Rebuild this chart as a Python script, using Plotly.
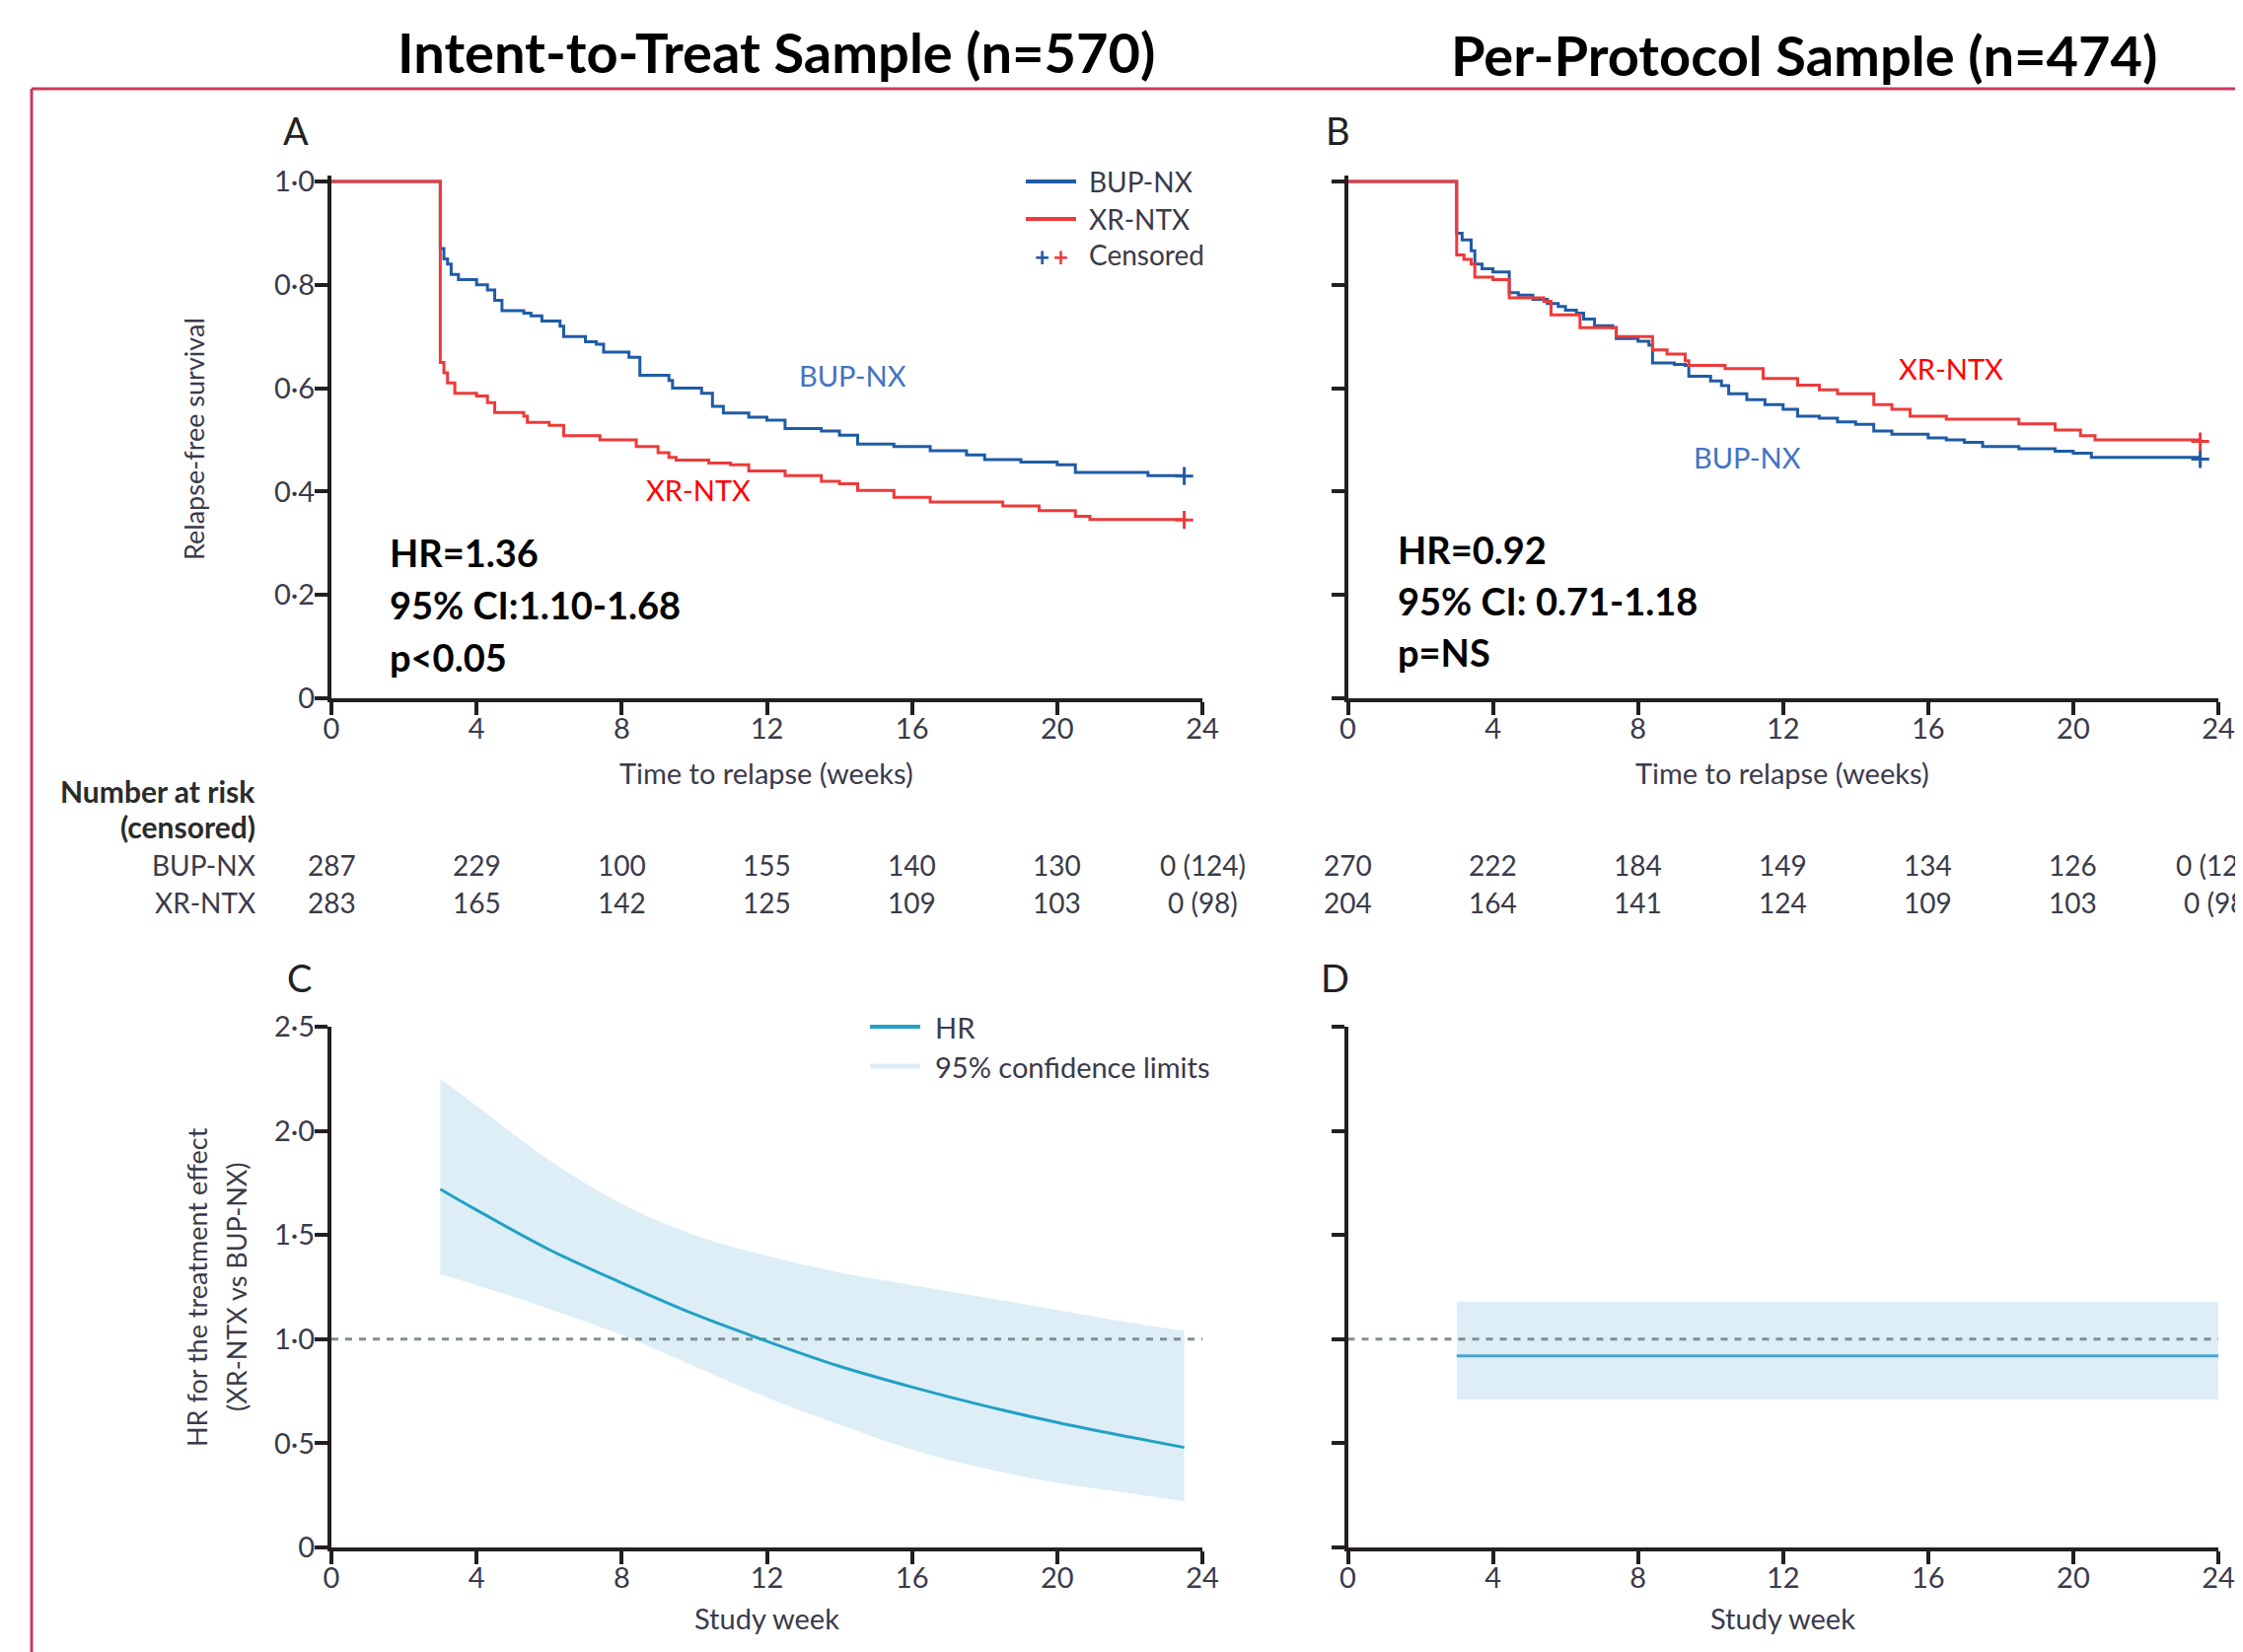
import plotly.graph_objects as go

W, H = 2274, 1675

# ---------------- data ----------------
week_ticks = [0, 4, 8, 12, 16, 20, 24]
km_ytick_vals = [0, 0.2, 0.4, 0.6, 0.8, 1.0]
km_ytick_text = ["0", "0·2", "0·4", "0·6", "0·8", "1·0"]
hr_ytick_vals = [0, 0.5, 1.0, 1.5, 2.0, 2.5]
hr_ytick_text = ["0", "0·5", "1·0", "1·5", "2·0", "2·5"]

# Panel A (intent-to-treat) Kaplan-Meier steps
itt_bup_t = [0, 3.0, 3.1, 3.2, 3.3, 3.5, 4.0, 4.3, 4.5, 4.7, 5.3, 5.5, 5.8, 6.3, 6.4, 7.0, 7.3, 7.5, 8.2, 8.5,
             9.3, 9.4, 10.2, 10.5, 10.8, 11.5, 12.0, 12.5, 13.5, 14.0, 14.5, 15.5, 16.5, 17.5, 18.0, 19.0, 20.0,
             20.5, 22.5, 23.5]
itt_bup_s = [1.0, 0.87, 0.85, 0.84, 0.82, 0.81, 0.80, 0.79, 0.77, 0.75, 0.745, 0.74, 0.73, 0.72, 0.70, 0.69, 0.685,
             0.67, 0.66, 0.625, 0.615, 0.60, 0.59, 0.565, 0.552, 0.544, 0.538, 0.522, 0.517, 0.509, 0.492, 0.487,
             0.479, 0.471, 0.462, 0.457, 0.452, 0.437, 0.431, 0.43]
itt_xr_t = [0, 3.0, 3.1, 3.2, 3.4, 4.0, 4.3, 4.5, 5.3, 5.4, 6.0, 6.4, 7.4, 8.4, 9.0, 9.3, 9.5, 10.4, 11.0, 11.5,
            12.5, 13.5, 14.0, 14.5, 15.5, 16.5, 18.5, 19.5, 20.5, 20.9, 23.5]
itt_xr_s = [1.0, 0.65, 0.63, 0.61, 0.59, 0.585, 0.572, 0.553, 0.546, 0.534, 0.528, 0.508, 0.50, 0.487, 0.475, 0.466,
            0.461, 0.455, 0.452, 0.44, 0.431, 0.42, 0.415, 0.402, 0.389, 0.38, 0.372, 0.363, 0.352, 0.346, 0.345]

# Panel B (per-protocol) Kaplan-Meier steps
pp_bup_t = [0, 3.0, 3.15, 3.4, 3.5, 3.7, 4.0, 4.45, 4.7, 5.1, 5.5, 5.8, 6.0, 6.3, 6.5, 6.8, 7.3, 7.4, 8.0, 8.3,
            8.4, 9.0, 9.3, 9.4, 10.0, 10.3, 10.5, 11.0, 11.5, 12.0, 12.4, 13.0, 13.5, 14.0, 14.5, 15.0, 16.0, 16.5,
            17.0, 17.5, 18.5, 19.5, 20.0, 20.5, 23.5]
pp_bup_s = [1.0, 0.90, 0.887, 0.866, 0.84, 0.831, 0.825, 0.785, 0.78, 0.772, 0.764, 0.758, 0.751, 0.745, 0.734,
            0.721, 0.717, 0.696, 0.691, 0.683, 0.649, 0.646, 0.644, 0.623, 0.614, 0.605, 0.589, 0.578, 0.568, 0.559,
            0.546, 0.542, 0.535, 0.53, 0.517, 0.511, 0.504, 0.50, 0.495, 0.487, 0.483, 0.478, 0.474, 0.466, 0.463]
pp_xr_t = [0, 3.0, 3.2, 3.4, 3.5, 4.0, 4.45, 5.4, 5.6, 6.4, 7.4, 8.4, 8.8, 9.3, 9.4, 10.4, 11.45, 12.4, 13.0,
           13.5, 14.5, 15.0, 15.5, 16.5, 18.5, 19.5, 20.2, 20.6, 23.5]
pp_xr_s = [1.0, 0.858, 0.849, 0.84, 0.815, 0.81, 0.775, 0.768, 0.742, 0.717, 0.70, 0.674, 0.666, 0.653, 0.644,
           0.638, 0.619, 0.606, 0.597, 0.589, 0.568, 0.559, 0.546, 0.54, 0.531, 0.519, 0.508, 0.50, 0.497]

# Panel C: time-varying hazard ratio (ITT)
c_weeks = [3, 4, 6, 8, 10, 12, 14, 16, 18, 20, 22, 23.5]
c_hr = [1.72, 1.62, 1.43, 1.27, 1.12, 0.99, 0.87, 0.77, 0.68, 0.60, 0.53, 0.48]
c_upper = [2.25, 2.12, 1.86, 1.65, 1.50, 1.40, 1.32, 1.26, 1.20, 1.14, 1.08, 1.04]
c_lower = [1.31, 1.26, 1.145, 1.02, 0.87, 0.72, 0.59, 0.47, 0.38, 0.31, 0.26, 0.22]

# Panel D: constant hazard ratio (per-protocol)
d_weeks = [3, 24]
d_hr = [0.92, 0.92]
d_upper = [1.18, 1.18]
d_lower = [0.71, 0.71]

ref_weeks = [0, 24]
ref_hr = [1.0, 1.0]

# Number at risk (censored)
risk_weeks = [0, 4, 8, 12, 16, 20, 24]
itt_risk_bup = ["287", "229", "100", "155", "140", "130", "0 (124)"]
itt_risk_xr = ["283", "165", "142", "125", "109", "103", "0 (98)"]
pp_risk_bup = ["270", "222", "184", "149", "134", "126", "0 (126)"]
pp_risk_xr = ["204", "164", "141", "124", "109", "103", "0 (98)"]

# ---------------- styling ----------------
BLUE = "#1f5ba6"
RED = "#ee3a3a"
LBL_BLUE = "#4472c4"
LBL_RED = "#ff0000"
HR_COL = "#22a0c6"
BAND = "#ddeef7"
AX = "#231f20"
TXT = "#3a3a4a"
FONT = "Lato, 'Open Sans', sans-serif"

OFF = 8.0  # page offset of the figure


def px(x):
    return (x - OFF) / W


def py(y):
    return 1 - (y - OFF) / H


fig = go.Figure()


def km(t, s, col, xa, ya):
    fig.add_trace(go.Scatter(x=t, y=s, mode="lines", line=dict(color=col, width=3, shape="hv"),
                             xaxis=xa, yaxis=ya, hoverinfo="skip"))
    fig.add_trace(go.Scatter(x=[t[-1]], y=[s[-1]], mode="markers",
                             marker=dict(symbol="cross-thin", size=13, line=dict(color=col, width=3)),
                             xaxis=xa, yaxis=ya, hoverinfo="skip", cliponaxis=False))


km(itt_bup_t, itt_bup_s, BLUE, "x", "y")
km(itt_xr_t, itt_xr_s, RED, "x", "y")
km(pp_bup_t, pp_bup_s, BLUE, "x2", "y2")
km(pp_xr_t, pp_xr_s, RED, "x2", "y2")

# Panel C
fig.add_trace(go.Scatter(x=c_weeks, y=c_lower, mode="lines", line=dict(width=0, shape="spline", color=BAND),
                         xaxis="x3", yaxis="y3", hoverinfo="skip"))
fig.add_trace(go.Scatter(x=c_weeks, y=c_upper, mode="lines", line=dict(width=0, shape="spline", color=BAND),
                         fill="tonexty", fillcolor=BAND, xaxis="x3", yaxis="y3", hoverinfo="skip"))
fig.add_trace(go.Scatter(x=ref_weeks, y=ref_hr, mode="lines",
                         line=dict(color="#7f8f92", width=3, dash="7px,7px"),
                         xaxis="x3", yaxis="y3", hoverinfo="skip"))
fig.add_trace(go.Scatter(x=c_weeks, y=c_hr, mode="lines", line=dict(color=HR_COL, width=3, shape="spline"),
                         xaxis="x3", yaxis="y3", hoverinfo="skip"))

# Panel D
fig.add_trace(go.Scatter(x=d_weeks, y=d_lower, mode="lines", line=dict(width=0, color=BAND),
                         xaxis="x4", yaxis="y4", hoverinfo="skip"))
fig.add_trace(go.Scatter(x=d_weeks, y=d_upper, mode="lines", line=dict(width=0, color=BAND),
                         fill="tonexty", fillcolor=BAND, xaxis="x4", yaxis="y4", hoverinfo="skip"))
fig.add_trace(go.Scatter(x=ref_weeks, y=ref_hr, mode="lines",
                         line=dict(color="#7f8f92", width=3, dash="7px,7px"),
                         xaxis="x4", yaxis="y4", hoverinfo="skip"))
fig.add_trace(go.Scatter(x=d_weeks, y=d_hr, mode="lines", line=dict(color="#4aa3c8", width=3),
                         xaxis="x4", yaxis="y4", hoverinfo="skip"))

# ---------------- axes ----------------
xA = [px(336), px(1219)]
xB = [px(1366.5), px(2249.0)]
yAB = [py(708), py(708 - 1.012 * 524)]
yCD = [py(1569), py(1041)]

common = dict(showline=True, linecolor=AX, linewidth=4, ticks="outside", ticklen=13, tickwidth=4,
              tickcolor=AX, showgrid=False, zeroline=False, automargin=False,
              tickfont=dict(family=FONT, size=29, color=TXT))


def xax(dom, anchor):
    d = dict(common)
    d.update(domain=dom, range=[0, 24], tickmode="array", tickvals=week_ticks,
             ticktext=[str(v) for v in week_ticks], anchor=anchor, ticklabelstandoff=-11)
    return d


def yax(dom, rng, vals, text, labels, anchor):
    d = dict(common)
    d.update(domain=dom, range=rng, tickmode="array", tickvals=vals, ticktext=text,
             showticklabels=labels, anchor=anchor, ticklabelstandoff=-6)
    return d


fig.update_layout(
    width=W, height=H, margin=dict(l=0, r=0, t=0, b=0),
    paper_bgcolor="white", plot_bgcolor="white", showlegend=False,
    xaxis=xax(xA, "y"), yaxis=yax(yAB, [0, 1.012], km_ytick_vals, km_ytick_text, True, "x"),
    xaxis2=xax(xB, "y2"), yaxis2=yax(yAB, [0, 1.012], km_ytick_vals, km_ytick_text, False, "x2"),
    xaxis3=xax(xA, "y3"), yaxis3=yax(yCD, [0, 2.5], hr_ytick_vals, hr_ytick_text, True, "x3"),
    xaxis4=xax(xB, "y4"), yaxis4=yax(yCD, [0, 2.5], hr_ytick_vals, hr_ytick_text, False, "x4"),
)

ann = []


def txt(x, y, s, size, color=TXT, bold=False, xanchor="center", angle=0, xref="paper", yref="paper",
        family=FONT):
    ann.append(dict(x=x, y=y, xref=xref, yref=yref, text=("<b>%s</b>" % s) if bold else s,
                    showarrow=False, xanchor=xanchor, yanchor="middle", textangle=angle,
                    font=dict(family=family, size=size, color=color)))


# Titles
txt(px(787), py(53), "Intent-to-Treat Sample (n=570)", 56, "#000000", bold=True)
txt(px(1829), py(55), "Per-Protocol Sample (n=474)", 56, "#000000", bold=True)

# Panel letters
for lx, ly, s in [(300, 132, "A"), (1356, 132, "B"), (303, 991, "C"), (1353, 991, "D")]:
    txt(px(lx), py(ly), s, 38, "#222222")

# Axis titles
for cx in (777, 1807):
    txt(px(cx), py(783), "Time to relapse (weeks)", 29)
    txt(px(cx), py(1640), "Study week", 29)
txt(px(196), py(445), "Relapse-free survival", 27, angle=-90)
txt(px(199), py(1305), "HR for the treatment effect", 27, angle=-90)
txt(px(239), py(1305), "(XR-NTX vs BUP-NX)", 27, angle=-90)

# Statistics
for i, s in enumerate(["HR=1.36", "95% CI:1.10-1.68", "p<0.05"]):
    txt(px(393), py(560 + i * 53), s, 38, "#000000", bold=True, xanchor="left")
for i, s in enumerate(["HR=0.92", "95% CI: 0.71-1.18", "p=NS"]):
    txt(px(1415), py(557 + i * 52), s, 38, "#000000", bold=True, xanchor="left")

# Curve labels
txt(px(864), py(380), "BUP-NX", 29, LBL_BLUE)
txt(px(708), py(497), "XR-NTX", 29, LBL_RED)
txt(px(1978), py(373), "XR-NTX", 29, LBL_RED)
txt(px(1772), py(463), "BUP-NX", 29, LBL_BLUE)

# Legend A
shapes = []
for yy, col, lab in [(184, BLUE, "BUP-NX"), (222, RED, "XR-NTX")]:
    shapes.append(dict(type="line", xref="paper", yref="paper", x0=px(1040), x1=px(1091), y0=py(yy), y1=py(yy),
                       line=dict(color=col, width=4)))
    txt(px(1102), py(yy), lab, 28, TXT, xanchor="left")
txt(px(1056), py(260), "<b>+</b>", 26, BLUE)
txt(px(1075), py(260), "<b>+</b>", 26, RED)
txt(px(1102), py(258), "Censored", 28, TXT, xanchor="left")

# Legend C
shapes.append(dict(type="line", xref="paper", yref="paper", x0=px(882), x1=px(933), y0=py(1041), y1=py(1041),
                   line=dict(color=HR_COL, width=4)))
shapes.append(dict(type="line", xref="paper", yref="paper", x0=px(882), x1=px(933), y0=py(1081), y1=py(1081),
                   line=dict(color=BAND, width=5)))
txt(px(946), py(1041), "HR", 29, TXT, xanchor="left")
txt(px(946), py(1081), "95% confidence limits", 29, TXT, xanchor="left")

# Number at risk table
txt(px(261), py(802), "Number at risk", 30, "#2b2b2b", bold=True, xanchor="right")
txt(px(261), py(838), "(censored)", 30, "#2b2b2b", bold=True, xanchor="right")
txt(px(261), py(877), "BUP-NX", 28, TXT, xanchor="right")
txt(px(261), py(915), "XR-NTX", 28, TXT, xanchor="right")
for wk, a, b in zip(risk_weeks, itt_risk_bup, itt_risk_xr):
    txt(wk, py(877), a, 28, TXT, xref="x")
    txt(wk, py(915), b, 28, TXT, xref="x")
for wk, a, b in zip(risk_weeks, pp_risk_bup, pp_risk_xr):
    txt(wk, py(877), a, 28, TXT, xref="x2")
    txt(wk, py(915), b, 28, TXT, xref="x2")

# Red frame
shapes.append(dict(type="line", xref="paper", yref="paper", x0=px(32), x1=1.0, y0=py(90), y1=py(90),
                   line=dict(color="#c83a5e", width=3)))
shapes.append(dict(type="line", xref="paper", yref="paper", x0=px(32), x1=px(32), y0=py(90), y1=0,
                   line=dict(color="#c83a5e", width=3)))

fig.update_layout(annotations=ann, shapes=shapes)
fig.write_html("out.html")
